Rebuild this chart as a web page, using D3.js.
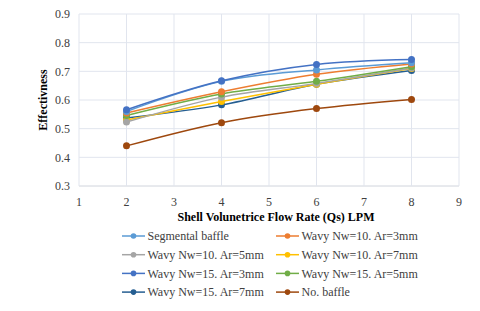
<!DOCTYPE html>
<html>
<head>
<meta charset="utf-8">
<script src="https://cdn.jsdelivr.net/npm/d3@7"></script>
<style>
  body { margin: 0; background: #fff; }
</style>
</head>
<body>
<svg id="vis" width="480" height="311"></svg>
<script>
const flowRates = [2, 4, 6, 8];
const xTicks = [1, 2, 3, 4, 5, 6, 7, 8, 9];
const yTicks = [0.3, 0.4, 0.5, 0.6, 0.7, 0.8, 0.9];

const seriesNames = [
    "Segmental baffle", "Wavy Nw=10. Ar=3mm",
    "Wavy Nw=10. Ar=5mm", "Wavy Nw=10. Ar=7mm",
    "Wavy Nw=15. Ar=3mm", "Wavy Nw=15. Ar=5mm",
    "Wavy Nw=15. Ar=7mm", "No. baffle"
];
const seriesColors = [
    "#5B9BD5", "#ED7D31", "#A5A5A5", "#FFC000",
    "#4472C4", "#70AD47", "#255E91", "#9E480E"
];

const segmental = [0.560, 0.665, 0.705, 0.730];
const wavy10ar3 = [0.555, 0.629, 0.690, 0.726];
const wavy10ar5 = [0.523, 0.610, 0.658, 0.712];
const wavy10ar7 = [0.530, 0.595, 0.655, 0.710];
const wavy15ar3 = [0.566, 0.667, 0.724, 0.741];
const wavy15ar5 = [0.546, 0.621, 0.665, 0.716];
const wavy15ar7 = [0.537, 0.583, 0.655, 0.703];
const noBaffle  = [0.440, 0.521, 0.570, 0.602];

const seriesValues = [
    segmental, wavy10ar3, wavy10ar5, wavy10ar7,
    wavy15ar3, wavy15ar5, wavy15ar7, noBaffle
];

const FONT = "'Liberation Serif', 'Times New Roman', Times, serif";

const svg = d3.select("#vis").attr("font-family", FONT);
const xscale = d3.scaleLinear().domain([1, 9]).range([79, 459]);
const yscale = d3.scaleLinear().domain([0.3, 0.9]).range([186, 14]);

const GRID = "#e1e5ee";

// gridlines
svg.append("g").selectAll("line").data(yTicks).join("line")
    .attr("x1", xscale(1)).attr("x2", xscale(9))
    .attr("y1", d => yscale(d)).attr("y2", d => yscale(d))
    .attr("stroke", d => d === 0.3 ? "#d0d4dc" : GRID).attr("stroke-width", 1);
svg.append("g").selectAll("line").data(xTicks).join("line")
    .attr("x1", d => xscale(d)).attr("x2", d => xscale(d))
    .attr("y1", yscale(0.3)).attr("y2", yscale(0.9))
    .attr("stroke", GRID).attr("stroke-width", 1);

// tick labels
svg.append("g").selectAll("text").data(yTicks).join("text")
    .attr("font-family", FONT)
    .attr("x", 70).attr("y", d => yscale(d))
    .attr("dy", "0.35em")
    .attr("text-anchor", "end")
    .attr("font-size", 12).attr("fill", "#404040")
    .text(d => d.toFixed(1));
svg.append("g").selectAll("text").data(xTicks).join("text")
    .attr("font-family", FONT)
    .attr("x", d => xscale(d)).attr("y", 202)
    .attr("dy", "0.35em")
    .attr("text-anchor", "middle")
    .attr("font-size", 12).attr("fill", "#404040")
    .text(d => d);

// axis titles
svg.append("text")
    .attr("font-family", FONT)
    .attr("x", 276).attr("y", 217).attr("dy", "0.35em")
    .attr("text-anchor", "middle")
    .attr("font-size", 12).attr("font-weight", "bold").attr("fill", "#000")
    .text("Shell Volunetrice Flow Rate (Qs) LPM");
svg.append("text")
    .attr("font-family", FONT)
    .attr("transform", "translate(43,100) rotate(-90)")
    .attr("dy", "0.35em")
    .attr("text-anchor", "middle")
    .attr("font-size", 12).attr("font-weight", "bold").attr("fill", "#000")
    .text("Effectivness");

// lines + markers
const line = d3.line()
    .x((d, i) => xscale(flowRates[i]))
    .y(d => yscale(d))
    .curve(d3.curveCatmullRom.alpha(0.5));

const drawOrder = [7, 6, 3, 2, 5, 1, 0, 4];
drawOrder.forEach(k => {
    const g = svg.append("g");
    g.append("path")
        .attr("d", line(seriesValues[k]))
        .attr("fill", "none")
        .attr("stroke", seriesColors[k])
        .attr("stroke-width", 1.5);
    g.selectAll("circle").data(seriesValues[k]).join("circle")
        .attr("cx", (d, i) => xscale(flowRates[i]))
        .attr("cy", d => yscale(d))
        .attr("r", 3.5)
        .attr("fill", seriesColors[k]);
});

// legend
const legend = svg.append("g");
seriesNames.forEach((name, k) => {
    const col = k % 2, row = Math.floor(k / 2);
    const x0 = col === 0 ? 122 : 276;
    const y0 = 236 + row * 18.7;
    legend.append("line")
        .attr("x1", x0).attr("x2", x0 + 23)
        .attr("y1", y0).attr("y2", y0)
        .attr("stroke", seriesColors[k]).attr("stroke-width", 1.5);
    legend.append("circle")
        .attr("cx", x0 + 11.5).attr("cy", y0).attr("r", 2.8)
        .attr("fill", seriesColors[k]);
    legend.append("text")
        .attr("font-family", FONT)
        .attr("x", x0 + 25.5).attr("y", y0).attr("dy", "0.35em")
        .attr("font-size", 12).attr("fill", "#404040")
        .text(name);
});
</script>
</body>
</html>
